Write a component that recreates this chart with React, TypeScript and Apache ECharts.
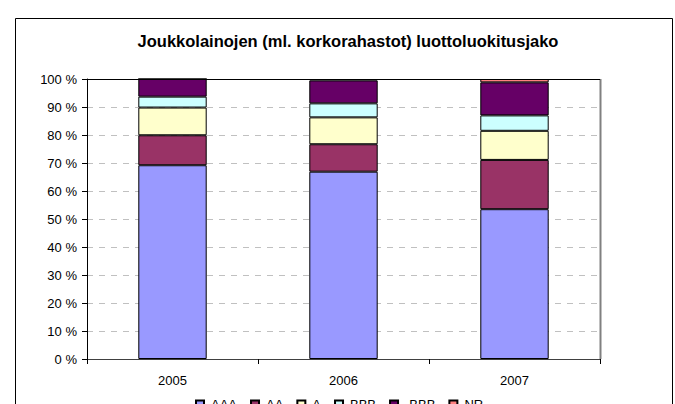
import React, { useEffect, useRef } from "react";
import * as echarts from "echarts";

const years = ["2005", "2006", "2007"];
const seriesNames = ["AAA", "AA", "A", "BBB", "-BBB", "NR"];
const aaa = [69.2, 66.9, 53.5];
const aa = [10.7, 9.8, 17.6];
const a = [9.9, 9.6, 10.4];
const bbb = [3.9, 5.0, 5.5];
const minusBbb = [6.3, 8.2, 11.8];
const nr = [0, 0.5, 1.2];
const seriesColors = ["#9999FF", "#993366", "#FFFFCC", "#CCFFFF", "#660066", "#FF8080"];
const titleText = "Joukkolainojen (ml. korkorahastot) luottoluokitusjako";

const FONT = 'Arial, "Liberation Sans", sans-serif';

export default function App() {
  const ref = useRef<HTMLDivElement>(null);
  useEffect(() => {
    if (!ref.current) return;
    const chart = echarts.init(ref.current, null, { renderer: "svg" });
    const values = [aaa, aa, a, bbb, minusBbb, nr];
    chart.setOption({
      animation: false,
      backgroundColor: "#ffffff",
      title: {
        text: titleText,
        left: 343,
        textAlign: "center",
        top: 27,
        textStyle: { fontFamily: FONT, fontSize: 16.5, fontWeight: "bold", color: "#000" },
      },
      graphic: [
        {
          type: "rect",
          shape: { x: 15.5, y: 18.5, width: 657, height: 420 },
          style: { fill: "none", stroke: "#000", lineWidth: 1 },
          silent: true,
        },
        {
          type: "line",
          shape: { x1: 600.5, y1: 79, x2: 600.5, y2: 359 },
          style: { stroke: "#808080", lineWidth: 2 },
          silent: true,
          z: 10,
        },
        {
          type: "line",
          shape: { x1: 87, y1: 79.5, x2: 600, y2: 79.5 },
          style: { stroke: "#000", lineWidth: 1 },
          silent: true,
          z: 10,
        },
      ],
      legend: {
        left: 195,
        top: 398,
        padding: 0,
        itemWidth: 8,
        itemHeight: 8,
        itemGap: 13,
        icon: "rect",
        data: seriesNames,
        textStyle: { fontFamily: FONT, fontSize: 13, color: "#000", padding: [0, 0, 0, 2] },
      },
      grid: { left: 87, right: 75, top: 79, bottom: 45, containLabel: false },
      xAxis: {
        type: "category",
        data: years,
        axisLine: { lineStyle: { color: "#404040", width: 1 } },
        axisTick: { show: true, length: 5, lineStyle: { color: "#000" } },
        axisLabel: { fontFamily: FONT, fontSize: 13, color: "#000", margin: 15 },
      },
      yAxis: {
        type: "value",
        min: 0,
        max: 100,
        interval: 10,
        axisLine: { show: true, lineStyle: { color: "#000" } },
        axisTick: { show: true, length: 5, lineStyle: { color: "#000" } },
        axisLabel: { fontFamily: FONT, fontSize: 13, color: "#000", margin: 10, formatter: "{value} %" },
        splitLine: { show: true, lineStyle: { color: "#c0c0c0", type: [6, 6], width: 1 } },
      },
      series: seriesNames.map((name, i) => ({
        name,
        type: "bar",
        stack: "total",
        barWidth: "40%",
        data: values[i],
        itemStyle: { color: seriesColors[i], borderColor: "#000", borderWidth: 1 },
      })),
    });
    return () => chart.dispose();
  }, []);
  return (
    <div
      ref={ref}
      style={{ position: "fixed", left: 0, top: 0, width: 675, height: 404 }}
    />
  );
}
